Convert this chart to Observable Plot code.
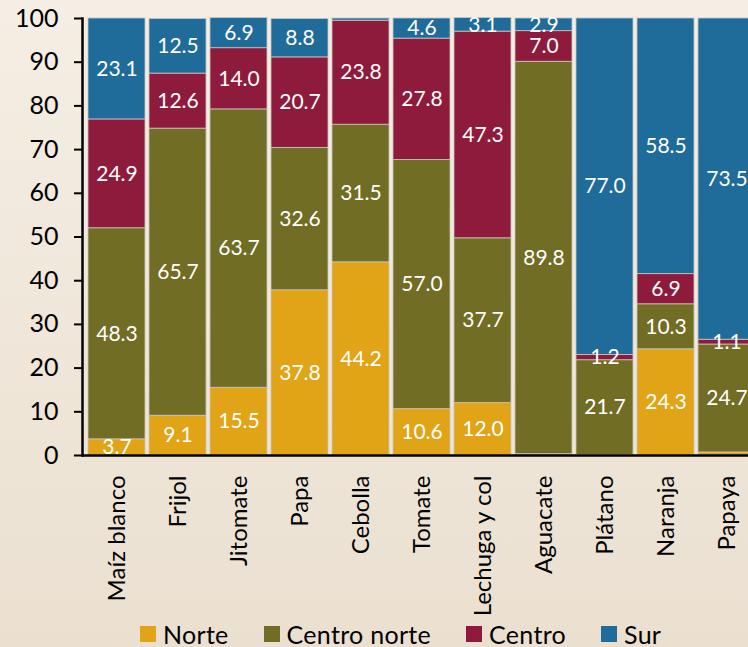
<!DOCTYPE html>
<html><head><meta charset="utf-8">
<script src="https://cdn.jsdelivr.net/npm/d3@7"></script>
<script src="https://cdn.jsdelivr.net/npm/@observablehq/plot@0.6"></script>
<style>
html,body{margin:0;padding:0;width:748px;height:647px;overflow:hidden;}
body{background:linear-gradient(#f4eee4,#ebe0d0);font-family:Lato,sans-serif;position:relative;}
#chart{position:absolute;left:0;top:0;}
#legend{position:absolute;top:623px;left:140px;display:flex;align-items:center;font-size:25px;line-height:22px;height:22px;letter-spacing:0.3px;color:#000;white-space:nowrap;}
#legend .item{display:flex;align-items:center;margin-right:35px;}
#legend .sw{width:16px;height:16px;margin-right:7px;}
</style></head>
<body>
<div id="chart"></div>
<div id="legend"></div>
<script>
const categories = ["Maíz blanco","Frijol","Jitomate","Papa","Cebolla","Tomate","Lechuga y col","Aguacate","Plátano","Naranja","Papaya"];
const series = ["Norte","Centro norte","Centro","Sur"];
const colors = ["#e0a416","#716d24","#8e1b3c","#1f6b9a"];
const norte       = [3.7, 9.1, 15.5, 37.8, 44.2, 10.6, 12.0, 0.3, 0.1, 24.3, 0.7];
const centroNorte = [48.3, 65.7, 63.7, 32.6, 31.5, 57.0, 37.7, 89.8, 21.7, 10.3, 24.7];
const centro      = [24.9, 12.6, 14.0, 20.7, 23.8, 27.8, 47.3, 7.0, 1.2, 6.9, 1.1];
const sur         = [23.1, 12.5, 6.9, 8.8, 0.5, 4.6, 3.1, 2.9, 77.0, 58.5, 73.5];
const yTicks = [0,10,20,30,40,50,60,70,80,90,100];

const valuesBySeries = [norte, centroNorte, centro, sur];
const rows = [];
categories.forEach((c, i) => {
  series.forEach((s, j) => rows.push({cat: c, series: s, value: valuesBySeries[j][i]}));
});

const chart = Plot.plot({
  width: 760,
  height: 622,
  marginTop: 18,
  marginBottom: 167,
  marginLeft: 82,
  marginRight: 0,
  style: {background: "transparent", maxWidth: "none", fontFamily: "Lato, sans-serif", color: "#000", overflow: "visible"},
  x: {domain: categories, paddingInner: 0.072, paddingOuter: 0.056, label: null},
  y: {domain: [0, 100], label: null},
  color: {domain: series, range: colors},
  marks: [
    Plot.barY(rows, Plot.stackY({x: "cat", y: "value", fill: "series", order: series, stroke: "#c9c6c0", strokeWidth: 0.8})),
    Plot.text(rows, Plot.stackY({x: "cat", y: "value", z: "series", order: series,
      text: d => d.value >= 1 ? d.value.toFixed(1) : "", fill: "white", fontSize: 21, letterSpacing: 0.6})),
    Plot.axisY({ticks: yTicks, tickSize: 8, strokeWidth: 2, tickPadding: 16, fontSize: 25, label: null}),
    Plot.axisX({tickRotate: -90, tickSize: 0, tickPadding: 20, fontSize: 24, label: null, letterSpacing: 0.7}),
    Plot.frame({anchor: "left", stroke: "black", strokeWidth: 2.5}),
    Plot.ruleY([0], {stroke: "black", strokeWidth: 2.5})
  ]
});
document.getElementById("chart").appendChild(chart);

const legend = document.getElementById("legend");
series.forEach((s, j) => {
  const item = document.createElement("div");
  item.className = "item";
  const sw = document.createElement("span");
  sw.className = "sw";
  sw.style.background = colors[j];
  const t = document.createElement("span");
  t.textContent = s;
  item.appendChild(sw); item.appendChild(t);
  legend.appendChild(item);
});
</script>
</body></html>
